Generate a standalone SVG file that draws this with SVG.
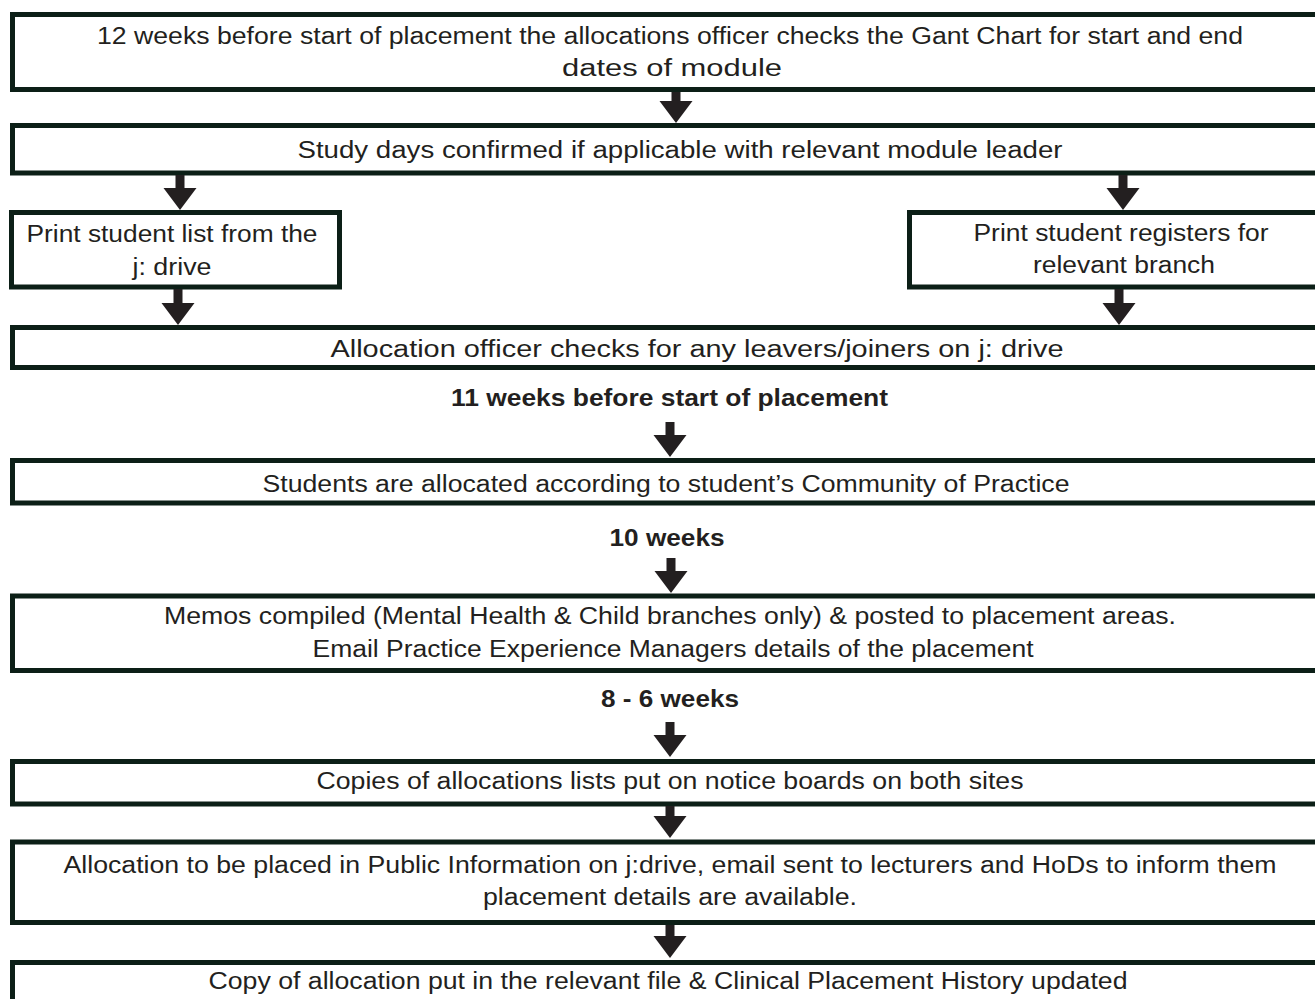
<svg xmlns="http://www.w3.org/2000/svg" width="1315" height="999" viewBox="0 0 1315 999">
<style>
.box{fill:#ffffff;stroke:#0c1f17;stroke-width:5}
.t{font-family:"Liberation Sans",Arial,sans-serif;font-size:23px;fill:#231f20;text-anchor:middle}
.b{font-weight:bold}
.arr{fill:#231f20}
</style>
<rect width="1315" height="999" fill="#ffffff"/>
<g id="n1"><rect class="box" x="12.5" y="14.5" width="1320" height="75"/>
<text class="t" x="670" y="44" textLength="1146" lengthAdjust="spacingAndGlyphs">12 weeks before start of placement the allocations officer checks the Gant Chart for start and end</text>
<text class="t" x="672" y="76" textLength="220" lengthAdjust="spacingAndGlyphs">dates of module</text></g>
<g id="n2"><rect class="box" x="12.5" y="125.5" width="1320" height="47.5"/>
<text class="t" x="680" y="158" textLength="765" lengthAdjust="spacingAndGlyphs">Study days confirmed if applicable with relevant module leader</text></g>
<g id="n3"><rect class="box" x="11.5" y="212.5" width="328" height="74.5"/>
<text class="t" x="172" y="242" textLength="291" lengthAdjust="spacingAndGlyphs">Print student list from the</text>
<text class="t" x="172" y="275" textLength="79" lengthAdjust="spacingAndGlyphs">j: drive</text></g>
<g id="n4"><rect class="box" x="909.5" y="212.5" width="420" height="74.5"/>
<text class="t" x="1121" y="241" textLength="295" lengthAdjust="spacingAndGlyphs">Print student registers for</text>
<text class="t" x="1124" y="273" textLength="182" lengthAdjust="spacingAndGlyphs">relevant branch</text></g>
<g id="n5"><rect class="box" x="12.5" y="327.5" width="1320" height="40"/>
<text class="t" x="697" y="357" textLength="733" lengthAdjust="spacingAndGlyphs">Allocation officer checks for any leavers/joiners on j: drive</text></g>
<g id="l1"><text class="t b" x="669.5" y="406" textLength="437" lengthAdjust="spacingAndGlyphs">11 weeks before start of placement</text></g>
<g id="n6"><rect class="box" x="12.5" y="460.5" width="1320" height="42.5"/>
<text class="t" x="666" y="492" textLength="807" lengthAdjust="spacingAndGlyphs">Students are allocated according to student’s Community of Practice</text></g>
<g id="l2"><text class="t b" x="667" y="546" textLength="115" lengthAdjust="spacingAndGlyphs">10 weeks</text></g>
<g id="n7"><rect class="box" x="12.5" y="596" width="1320" height="74.5"/>
<text class="t" x="670" y="624" textLength="1012" lengthAdjust="spacingAndGlyphs">Memos compiled (Mental Health &amp; Child branches only) &amp; posted to placement areas.</text>
<text class="t" x="673" y="657" textLength="721" lengthAdjust="spacingAndGlyphs">Email Practice Experience Managers details of the placement</text></g>
<g id="l3"><text class="t b" x="670" y="707" textLength="138" lengthAdjust="spacingAndGlyphs">8 - 6 weeks</text></g>
<g id="n8"><rect class="box" x="12.5" y="761.5" width="1320" height="42.5"/>
<text class="t" x="670" y="789" textLength="707" lengthAdjust="spacingAndGlyphs">Copies of allocations lists put on notice boards on both sites</text></g>
<g id="n9"><rect class="box" x="12.5" y="842" width="1320" height="80.5"/>
<text class="t" x="670" y="873" textLength="1213" lengthAdjust="spacingAndGlyphs">Allocation to be placed in Public Information on j:drive, email sent to lecturers and HoDs to inform them</text>
<text class="t" x="670" y="905" textLength="374" lengthAdjust="spacingAndGlyphs">placement details are available.</text></g>
<g id="n10"><rect class="box" x="12.5" y="962.5" width="1320" height="60"/>
<text class="t" x="668" y="989" textLength="919" lengthAdjust="spacingAndGlyphs">Copy of allocation put in the relevant file &amp; Clinical Placement History updated</text></g>
<g id="connectors" class="arr">
<path d="M671.5,92 h9 v9 h12 l-16.5,22 l-16.5,-22 h12 z"/>
<path d="M175.5,175 h9 v13 h12 l-16.5,22 l-16.5,-22 h12 z"/>
<path d="M1118.5,175 h9 v13 h12 l-16.5,22 l-16.5,-22 h12 z"/>
<path d="M173.5,289 h9 v14 h12 l-16.5,22 l-16.5,-22 h12 z"/>
<path d="M1114.5,289 h9 v14 h12 l-16.5,22 l-16.5,-22 h12 z"/>
<path d="M665.5,422 h9 v13 h12 l-16.5,22 l-16.5,-22 h12 z"/>
<path d="M666.5,558 h9 v13 h12 l-16.5,22 l-16.5,-22 h12 z"/>
<path d="M665.5,722 h9 v13 h12 l-16.5,22 l-16.5,-22 h12 z"/>
<path d="M665.5,806 h9 v10 h12 l-16.5,22 l-16.5,-22 h12 z"/>
<path d="M665.5,925 h9 v11 h12 l-16.5,22 l-16.5,-22 h12 z"/>
</g>
</svg>
